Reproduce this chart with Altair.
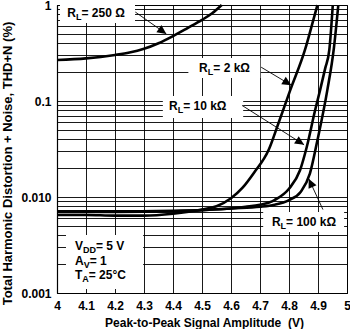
import math
import altair as alt
import pandas as pd

# ---------------- data ----------------
x_250 = [4.0, 4.1, 4.2, 4.25, 4.3, 4.35, 4.4, 4.45, 4.5, 4.535, 4.568]
y_250 = [0.267, 0.278, 0.302, 0.32, 0.35, 0.40, 0.475, 0.575, 0.70, 0.82, 1.0]

x_2k = [4.0, 4.1, 4.2, 4.3, 4.4, 4.5, 4.55, 4.6, 4.64, 4.68, 4.73, 4.763, 4.804, 4.855, 4.884, 4.898]
y_2k = [0.0065, 0.0065, 0.0064, 0.0064, 0.0067, 0.0074, 0.0080, 0.0097, 0.0125, 0.0180, 0.031, 0.058, 0.129, 0.34, 0.70, 1.0]

x_10k = [4.0, 4.2, 4.4, 4.5, 4.6, 4.65, 4.7, 4.75, 4.8, 4.838, 4.861, 4.89, 4.907, 4.925, 4.939, 4.951]
y_10k = [0.0070, 0.0070, 0.0071, 0.0073, 0.0076, 0.0079, 0.0083, 0.0093, 0.0122, 0.019, 0.033, 0.08, 0.129, 0.22, 0.34, 1.0]

x_100k = [4.0, 4.2, 4.4, 4.5, 4.6, 4.7, 4.75, 4.8, 4.84, 4.872, 4.898, 4.932, 4.955, 4.97]
y_100k = [0.0071, 0.0071, 0.0072, 0.0073, 0.0076, 0.0079, 0.0083, 0.0093, 0.0113, 0.0175, 0.039, 0.129, 0.36, 1.0]

x_ticks = [4, 4.1, 4.2, 4.3, 4.4, 4.5, 4.6, 4.7, 4.8, 4.9, 5]
y_grid = [0.001, 0.002, 0.003, 0.004, 0.005, 0.006, 0.007, 0.008, 0.009,
          0.01, 0.02, 0.03, 0.04, 0.05, 0.06, 0.07, 0.08, 0.09,
          0.1, 0.2, 0.3, 0.4, 0.5, 0.6, 0.7, 0.8, 0.9, 1]

# annotation labels: (x start, y centre, rest of text)
lab_x = [4.0355, 4.49, 4.386, 4.741]
lab_y = [0.825, 0.22, 0.088, 0.00544]
lab_rest = [" = 250 \u03a9", " = 2 k\u03a9", " = 10 k\u03a9", " = 100 k\u03a9"]

# white label boxes
box_x1 = [4.0103, 4.453, 4.365, 4.711, 4.031]
box_x2 = [4.269, 4.701, 4.642, 4.990, 4.297]
box_y1 = [1.0, 0.280, 0.1127, 0.00696, 0.00402]
box_y2 = [0.649, 0.174, 0.0664, 0.00432, 0.00110]

# arrows: start -> tip
arr_x1 = [4.270, 4.704, 4.638, 4.917]
arr_y1 = [0.845, 0.225, 0.090, 0.0074]
arr_x2 = [4.377, 4.808, 4.852, 4.868]
arr_y2 = [0.50, 0.146, 0.035, 0.0155]

# conditions box
cond_x = 4.062
cond_y = [0.00309, 0.00215, 0.00154]

# ---------------- chart ----------------
W, H = 290, 288
FONT = "Liberation Sans"

def to_px(x, y):
    return (x - 4) * W, -math.log10(y) / 3 * H

rows = []
for name, xs_, ys_ in [("250", x_250, y_250), ("2k", x_2k, y_2k),
                       ("10k", x_10k, y_10k), ("100k", x_100k, y_100k)]:
    for a, b in zip(xs_, ys_):
        rows.append({"series": name, "x": a, "y": b})
curves = pd.DataFrame(rows)

xscale = alt.Scale(domain=[4, 5], nice=False, zero=False)
yscale = alt.Scale(type="log", domain=[0.001, 1], nice=False)

XT = "Peak-to-Peak Signal Amplitude\u00a0 (V)"
YT = "Total Harmonic Distortion + Noise, THD+N (%)"

xaxis = alt.Axis(values=x_ticks, format="~g", grid=True, ticks=False, labelFlush=False,
                 labelPadding=7, labelFontSize=12, labelFont=FONT, labelFontWeight="bold",
                 labelColor="black", domainColor="black", domainWidth=1.2,
                 gridColor="black", gridWidth=0.9, gridOpacity=1,
                 titleFont=FONT, titleFontSize=12, titleFontWeight="bold", titleColor="black",
                 titleY=33, titleBaseline="alphabetic", titleX=147)
ylabel_expr = ("datum.value > 0.95 ? '1' : (datum.value > 0.095 && datum.value < 0.105) ? '0.1' : "
               "(datum.value > 0.0095 && datum.value < 0.0105) ? '0.010' : "
               "datum.value < 0.00105 ? '0.001' : ''")
yaxis = alt.Axis(values=y_grid, labelExpr=ylabel_expr, grid=True, ticks=False, labelFlush=False,
                 labelPadding=6, labelFontSize=12, labelFont=FONT, labelFontWeight="bold",
                 labelColor="black", domainColor="black", domainWidth=1.2,
                 gridColor="black", gridWidth=0.9, gridOpacity=1,
                 titleFont=FONT, titleFontSize=13, titleFontWeight="bold", titleColor="black",
                 titleAngle=270, titleX=-50, titleY=158, titleAlign="center",
                 titleBaseline="middle")

def X(f="x"):
    return alt.X(f"{f}:Q", scale=xscale, axis=xaxis, title=XT)

def Y(f="y"):
    return alt.Y(f"{f}:Q", scale=yscale, axis=yaxis, title=YT)

lines = alt.Chart(curves).mark_line(color="black", strokeWidth=2.6, interpolate="monotone").encode(
    x=X(), y=Y(), detail="series:N")

boxes = alt.Chart(pd.DataFrame({"x": box_x1, "x2": box_x2, "y": box_y1, "y2": box_y2})).mark_rect(
    color="white", opacity=1).encode(x=X(), x2=alt.X2("x2:Q", title=XT), y=Y(), y2=alt.Y2("y2:Q", title=YT))

arrows = alt.Chart(pd.DataFrame({"x": arr_x1, "y": arr_y1, "x2": arr_x2, "y2": arr_y2})).mark_rule(
    color="black", strokeWidth=0.9).encode(x=X(), x2=alt.X2("x2:Q", title=XT), y=Y(), y2=alt.Y2("y2:Q", title=YT))

angles = []
for a1, b1, a2, b2 in zip(arr_x1, arr_y1, arr_x2, arr_y2):
    p1 = to_px(a1, b1)
    p2 = to_px(a2, b2)
    angles.append(math.degrees(math.atan2(p2[0] - p1[0], -(p2[1] - p1[1]))) % 360)
heads = alt.Chart(pd.DataFrame({"x": arr_x2, "y": arr_y2, "a": angles})).mark_point(
    shape="M0,0L0.48,1L-0.48,1Z", filled=True, size=330, color="black", opacity=1).encode(
    x=X(), y=Y(), angle=alt.Angle("a:Q", scale=None))

labdf = pd.DataFrame({"x": lab_x, "y": lab_y, "main": ["R"] * 4, "sub": ["L"] * 4, "rest": lab_rest})

def sub_text(df, size, dx_sub, dx_rest, sub_size):
    common = dict(align="left", baseline="middle", font=FONT, fontWeight="bold", color="black")
    a = alt.Chart(df).mark_text(fontSize=size, **common).encode(x=X(), y=Y(), text="main:N")
    b = alt.Chart(df).mark_text(fontSize=sub_size, dx=dx_sub, dy=4, **common).encode(x=X(), y=Y(), text="sub:N")
    c = alt.Chart(df).mark_text(fontSize=size, dx=dx_rest, **common).encode(x=X(), y=Y(), text="rest:N")
    return [a, b, c]

texts = sub_text(labdf, 12, 8.7, 14.2, 9)

cond_layers = []
cond_layers += sub_text(pd.DataFrame({"x": [cond_x], "y": [cond_y[0]], "main": ["V"], "sub": ["DD"], "rest": [" = 5 V"]}),
                        12, 8.0, 21, 9)
cond_layers += sub_text(pd.DataFrame({"x": [cond_x], "y": [cond_y[1]], "main": ["A"], "sub": ["V"], "rest": [" = 1"]}),
                        12, 8.7, 14.7, 9)
cond_layers += sub_text(pd.DataFrame({"x": [cond_x], "y": [cond_y[2]], "main": ["T"], "sub": ["A"], "rest": [" = 25\u00b0C"]}),
                        12, 7.3, 13.8, 9)

chart = alt.layer(boxes, lines, arrows, heads, *texts, *cond_layers).properties(
    width=W, height=H,
    autosize=alt.AutoSizeParams(type="none"),
    padding={"left": 57, "top": 5, "right": 3, "bottom": 36},
    background="white",
).configure_view(stroke="black", strokeWidth=1)

chart.save("out.html", embed_options={"renderer": "svg", "actions": False})
